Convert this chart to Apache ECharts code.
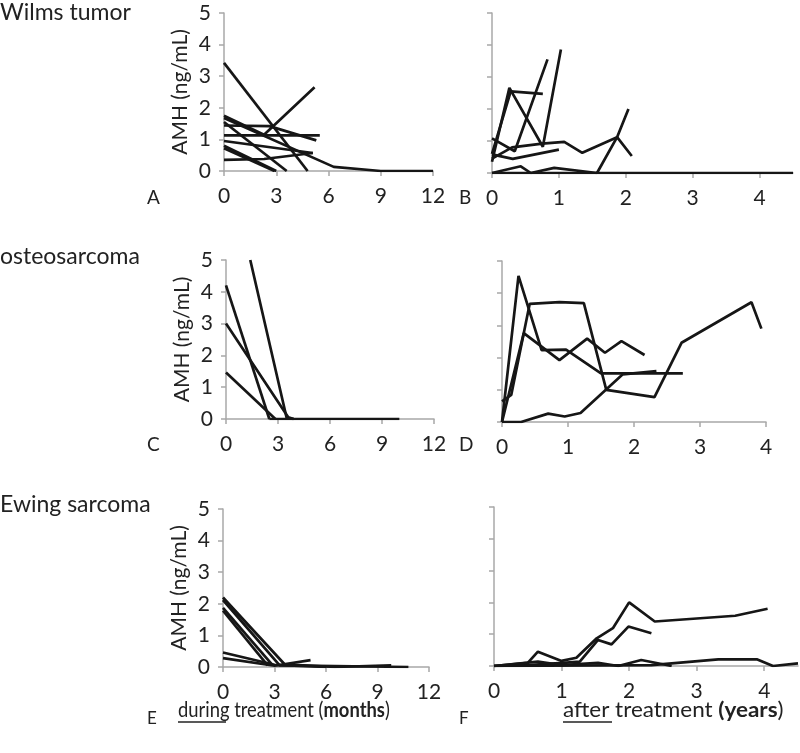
<!DOCTYPE html>
<html><head><meta charset="utf-8">
<script src="https://cdn.jsdelivr.net/npm/echarts@6/dist/echarts.min.js"></script>
<style>html,body{margin:0;padding:0;background:#fff}#c{width:800px;height:753px}</style>
</head><body><div id="c"></div>
<script>
// ---- data (x = months during / years after treatment, y = AMH ng/mL) ----
const wilmsDuring = [
  [[0,3.42],[4.8,0]],
  [[0,1.75],[2.3,1.15],[5.2,2.65]],
  [[0,1.44],[2.6,1.42],[5.3,0.97]],
  [[0,1.13],[5.5,1.13]],
  [[0,1.68],[6.3,0.13],[9,0],[12,0]],
  [[0,1.55],[3.6,0]],
  [[0,0.95],[5.1,0.57]],
  [[0,0.8],[3,0]],
  [[0,0.72],[2.9,0]],
  [[0,0.35],[2.3,0.38],[5.1,0.57]]
];
const wilmsAfter = [
  [[0,0.35],[0.26,2.66],[0.76,0.82],[1.03,3.86]],
  [[0,1.08],[0.34,0.68],[0.83,3.55]],
  [[0,0.6],[0.28,2.55],[0.76,2.47]],
  [[0,0.45],[0.3,0.8],[0.75,0.92],[1.08,0.97],[1.35,0.63],[1.87,1.12],[2.04,2.0]],
  [[0,0.58],[0.31,0.44],[1.0,0.73]],
  [[1.57,0],[1.87,1.12],[2.09,0.53]],
  [[0,0],[0.43,0.21],[0.58,0],[0.93,0.16],[1.57,0]],
  [[0,0],[4.5,0]]
];
const osteoDuring = [
  [[1.4,5.0],[3.5,0.03],[3.9,0]],
  [[0,4.2],[2.5,0]],
  [[0,3.0],[3.6,0.05],[3.9,0]],
  [[0,1.46],[2.85,0]],
  [[2.5,0],[10,0]]
];
const osteoAfter = [
  [[0,0],[0.25,4.54],[0.6,2.23],[0.97,2.25],[1.5,1.51],[2.74,1.51]],
  [[0,0.64],[0.14,0.84],[0.42,3.67],[0.87,3.72],[1.24,3.69],[1.58,1.0],[2.31,0.77],[2.72,2.46],[3.78,3.72],[3.93,2.9]],
  [[0,0],[0.33,2.76],[0.87,1.92],[1.29,2.59],[1.56,2.15],[1.81,2.51],[2.16,2.08]],
  [[0,0],[0.29,0],[0.7,0.26],[0.95,0.17],[1.19,0.28],[1.83,1.48],[2.34,1.58]]
];
const ewingDuring = [
  [[0,2.2],[3.6,0.08],[6.5,0],[9.8,0.05]],
  [[0,2.12],[3.3,0.05],[10.8,0]],
  [[0,1.87],[2.9,0.05]],
  [[0,1.78],[2.6,0.05]],
  [[0,0.46],[3,0.07],[6,0]],
  [[0,0.28],[3,0.04],[5.1,0.22]]
];
const ewingAfter = [
  [[0,0],[0.5,0.1],[0.65,0.45],[1.0,0.16],[1.22,0.26],[1.52,0.87],[1.76,1.19],[2.0,2.0],[2.38,1.4],[3.57,1.58],[4.05,1.8]],
  [[0,0],[0.5,0.03],[1.02,0.1],[1.27,0.14],[1.54,0.82],[1.74,0.68],[1.99,1.24],[2.33,1.03]],
  [[0,0],[2.33,0.03],[3.32,0.21],[3.89,0.21],[4.13,0],[4.5,0.08]],
  [[0,0],[0.65,0.14],[1.0,0.03],[1.54,0.1],[1.84,0],[2.18,0.19],[2.63,0]]
];
const duringTicks = [0,3,6,9,12];
const afterTicks = [0,1,2,3,4];
const amhTicks = [0,1,2,3,4,5];
const rowTitles = ['Wilms tumor','osteosarcoma','Ewing sarcoma'];
const panelLetters = ['A','B','C','D','E','F'];

// ---- layout ----
const FONT = 'Lato, "Open Sans", sans-serif';
const grids = [
  {left:224, top:13, width:209, height:158},
  {left:492, top:13, width:301, height:160},
  {left:226, top:260, width:208, height:159},
  {left:502, top:261, width:264, height:161},
  {left:223, top:509, width:206, height:158},
  {left:494, top:507, width:304, height:159}
];
const panels = [
  {data:wilmsDuring, xmax:12, xi:3, ticks:duringTicks, ylab:true},
  {data:wilmsAfter, xmax:4.5, xi:1, ticks:afterTicks, ylab:false},
  {data:osteoDuring, xmax:12, xi:3, ticks:duringTicks, ylab:true},
  {data:osteoAfter, xmax:4, xi:1, ticks:afterTicks, ylab:false},
  {data:ewingDuring, xmax:12, xi:3, ticks:duringTicks, ylab:true},
  {data:ewingAfter, xmax:4.5, xi:1, ticks:afterTicks, ylab:false}
];
const axisLineStyle = {color:'#a8a8a8', width:1.5};
const xAxis = [], yAxis = [], series = [];
panels.forEach((p,i)=>{
  xAxis.push({gridIndex:i, type:'value', min:0, max:p.xmax, interval:p.xi,
    splitLine:{show:false},
    axisLine:{show:true, onZero:false, lineStyle:axisLineStyle},
    axisTick:{show:true, length:5, lineStyle:axisLineStyle, customValues:p.ticks},
    axisLabel:{show:true, margin:15, fontSize:21, color:'#222', fontFamily:FONT, customValues:p.ticks}
  });
  yAxis.push({gridIndex:i, type:'value', min:0, max:5, interval:1,
    name: p.ylab ? 'AMH (ng/mL)' : '', nameLocation:'middle', nameGap:33,
    nameTextStyle:{fontSize:21, color:'#222', fontFamily:FONT},
    splitLine:{show:false},
    axisLine:{show:true, lineStyle:axisLineStyle},
    axisTick:{show:true, length:5, lineStyle:axisLineStyle},
    axisLabel:{show:p.ylab, margin:13, fontSize:21, color:'#222', fontFamily:FONT, customValues:amhTicks}
  });
  p.data.forEach(d=>{
    series.push({type:'line', xAxisIndex:i, yAxisIndex:i, data:d, showSymbol:false,
      symbol:'none', silent:true, animation:false,
      lineStyle:{color:'#161616', width:2.7}});
  });
});

const graphic = [];
const titleTops = [1, 245, 493];
rowTitles.forEach((t,i)=>graphic.push({type:'text', left:0, top:titleTops[i],
  style:{text:t, font:'23px '+FONT, fill:'#222'}}));
const letterPos = [[147,188],[459,188],[147,435],[459,435],[147,710],[459,710]];
panelLetters.forEach((l,i)=>graphic.push({type:'text', x:letterPos[i][0], y:letterPos[i][1],
  style:{text:l, font:(i>=4?'17px ':'19px ')+FONT, fill:'#222'}}));
const rich = {u:{fontSize:21,fontFamily:FONT,fill:'#222'}, b:{fontSize:21,fontWeight:'bold',fontFamily:FONT,fill:'#222'}};
graphic.push({type:'text', x:178, y:700, scaleX:0.875, style:{
  text:'{u|during} treatment ({b|months})', rich, font:'21px '+FONT, fill:'#222'}});
graphic.push({type:'text', x:563, y:700, scaleX:1.07, style:{
  text:'{u|after }treatment {b|(years})', rich, font:'21px '+FONT, fill:'#222'}});
graphic.push({type:'line', shape:{x1:178,y1:722,x2:226,y2:722}, style:{stroke:'#222', lineWidth:1.3}});
graphic.push({type:'line', shape:{x1:563,y1:722,x2:612,y2:722}, style:{stroke:'#222', lineWidth:1.3}});

const chart = echarts.init(document.getElementById('c'), null, {renderer:'canvas'});
chart.setOption({
  animation:false,
  backgroundColor:'#fff',
  grid: grids.map(g=>Object.assign({containLabel:false, outerBoundsMode:'none'}, g)),
  xAxis, yAxis, series, graphic
});
</script></body></html>
